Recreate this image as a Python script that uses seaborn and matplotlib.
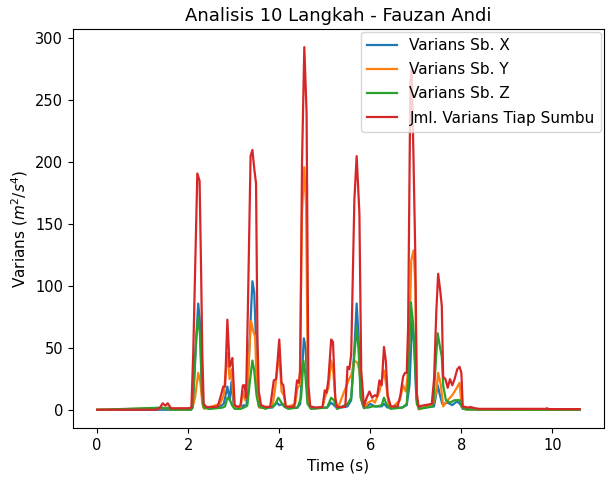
import matplotlib
matplotlib.use("Agg")
import matplotlib.pyplot as plt
import seaborn as sns
import pandas as pd

# ---- data ----
t_x = [0.0, 2.05, 2.10, 2.14, 2.18, 2.22, 2.26, 2.29, 2.33, 2.45, 2.70, 2.78, 2.86, 2.91, 2.95, 3.00,
       3.15, 3.22, 3.28, 3.33, 3.41, 3.45, 3.49, 3.53, 3.60, 3.85, 3.95, 4.00, 4.08, 4.15, 4.40, 4.46,
       4.50, 4.54, 4.58, 4.63, 4.70, 5.05, 5.14, 5.20, 5.27, 5.50, 5.58, 5.65, 5.70, 5.74, 5.79, 5.86,
       6.00, 6.10, 6.25, 6.30, 6.38, 6.70, 6.80, 6.86, 6.92, 6.96, 7.01, 7.06, 7.40, 7.48, 7.53, 7.58,
       7.70, 7.80, 7.90, 7.97, 8.03, 8.50, 10.6]
v_x = [0.2, 0.3, 2, 30, 60, 86, 70, 30, 3, 1, 3, 5, 19, 8, 23, 3,
       1.5, 4, 3, 40, 104, 95, 55, 10, 2, 2, 6, 4, 5, 2, 2, 5,
       30, 58, 50, 8, 1.5, 2, 6, 4, 1.5, 3, 8, 50, 86, 60, 10, 1.5,
       5, 3, 3, 5, 2, 2, 4, 20, 72, 55, 10, 1.5, 3, 20, 12, 5,
       6, 4, 7, 5, 1, 0.3, 0.3]

t_y = [0.0, 1.40, 1.55, 1.65, 2.05, 2.10, 2.15, 2.22, 2.27, 2.31, 2.35, 2.70, 2.78, 2.86, 2.91, 2.95,
       3.01, 3.15, 3.20, 3.25, 3.30, 3.38, 3.42, 3.47, 3.51, 3.56, 3.85, 3.90, 4.00, 4.05, 4.10, 4.15,
       4.35, 4.40, 4.45, 4.50, 4.55, 4.59, 4.63, 4.68, 4.95, 5.00, 5.08, 5.14, 5.19, 5.24, 5.28, 5.48,
       5.53, 5.58, 5.65, 5.72, 5.77, 5.82, 5.88, 5.95, 6.05, 6.10, 6.20, 6.30, 6.35, 6.40, 6.45, 6.65,
       6.72, 6.78, 6.84, 6.90, 6.95, 6.99, 7.02, 7.06, 7.38, 7.45, 7.49, 7.55, 7.60, 7.70, 7.80, 7.90,
       7.96, 8.01, 8.10, 10.6]
v_y = [0.2, 1.5, 1.5, 0.5, 0.5, 3, 10, 30, 22, 5, 1, 5, 12, 46, 25, 33,
       3, 2, 15, 8, 20, 72, 65, 59, 15, 2, 3, 15, 46, 15, 12, 2,
       5, 18, 20, 160, 196, 164, 10, 1.5, 2, 10, 18, 40, 30, 4, 1, 20,
       25, 28, 40, 38, 30, 5, 2, 6, 8, 6, 15, 32, 20, 5, 1, 8,
       20, 15, 35, 121, 129, 100, 8, 0.5, 5, 15, 30, 20, 3, 8, 12, 18,
       22, 2, 0.5, 0.2]

t_z = [0.0, 1.44, 1.50, 1.55, 1.62, 2.07, 2.10, 2.14, 2.18, 2.22, 2.26, 2.30, 2.34, 2.50, 2.75, 2.81,
       2.86, 2.91, 2.96, 3.02, 3.15, 3.22, 3.30, 3.36, 3.41, 3.45, 3.50, 3.55, 3.70, 3.90, 3.98, 4.05,
       4.10, 4.20, 4.40, 4.48, 4.53, 4.57, 4.62, 4.70, 5.05, 5.14, 5.20, 5.27, 5.50, 5.58, 5.64, 5.70,
       5.74, 5.79, 5.86, 5.95, 6.05, 6.15, 6.25, 6.30, 6.35, 6.45, 6.70, 6.80, 6.84, 6.89, 6.94, 6.98,
       7.02, 7.08, 7.38, 7.44, 7.48, 7.53, 7.57, 7.60, 7.66, 7.75, 7.85, 7.96, 8.02, 8.10, 10.6]
v_z = [0.2, 2, 1, 2, 0.3, 0.3, 3, 35, 60, 75, 60, 15, 2, 1, 2, 3,
       10, 9, 4, 1, 1, 2, 4, 25, 40, 32, 12, 3, 1, 4, 10, 6,
       3, 1, 2, 10, 40, 30, 5, 1, 2, 10, 8, 1, 5, 10, 40, 67,
       50, 10, 2, 2, 3, 3, 4, 10, 5, 1, 2, 5, 30, 87, 70, 40,
       5, 1, 3, 40, 62, 51, 43, 20, 8, 6, 8, 8, 2, 0.5, 0.2]

t_sum = [0.0, 1.30, 1.38, 1.44, 1.50, 1.55, 1.62, 1.70, 2.00, 2.07, 2.11, 2.15, 2.20, 2.25, 2.28, 2.31,
         2.34, 2.40, 2.55, 2.65, 2.72, 2.77, 2.81, 2.86, 2.91, 2.94, 2.97, 3.02, 3.10, 3.15, 3.20, 3.24,
         3.27, 3.31, 3.37, 3.41, 3.45, 3.49, 3.52, 3.55, 3.60, 3.70, 3.80, 3.88, 3.93, 4.00, 4.05, 4.09,
         4.14, 4.25, 4.33, 4.39, 4.43, 4.46, 4.50, 4.55, 4.60, 4.64, 4.68, 4.80, 4.95, 5.00, 5.04, 5.08,
         5.14, 5.18, 5.23, 5.27, 5.45, 5.50, 5.54, 5.58, 5.65, 5.70, 5.76, 5.80, 5.86, 5.92, 5.98, 6.04,
         6.10, 6.15, 6.20, 6.25, 6.30, 6.34, 6.38, 6.45, 6.60, 6.66, 6.72, 6.76, 6.80, 6.83, 6.88, 6.91,
         6.95, 6.99, 7.02, 7.06, 7.20, 7.35, 7.40, 7.45, 7.49, 7.54, 7.57, 7.60, 7.65, 7.70, 7.75, 7.80,
         7.85, 7.91, 7.96, 8.00, 8.03, 8.15, 8.20, 8.30, 8.40, 9.85, 9.88, 9.92, 10.6]
v_sum = [0.3, 0.3, 2, 5.5, 3.5, 5.5, 1.5, 1.5, 1.5, 2, 45, 110, 191, 185, 120, 45,
         5, 2.5, 2.5, 3, 12, 19, 19, 73, 35, 38, 42, 4, 2.5, 4, 20, 20,
         10, 80, 205, 210, 195, 183, 60, 15, 4, 2.5, 2.5, 24, 25, 57, 22, 20,
         3, 2.5, 3, 24, 22, 32, 200, 293, 240, 20, 3, 2, 2.5, 16, 14, 25,
         57, 55, 10, 2.5, 2.5, 35, 33, 45, 170, 205, 159, 32, 3, 10, 15, 10,
         12, 11, 24, 20, 51, 40, 12, 3, 3, 12, 27, 30, 30, 67, 265, 275,
         200, 121, 14, 3, 4, 5, 25, 80, 110, 95, 84, 27, 25, 18, 25, 20,
         25, 33, 35, 30, 3, 2, 2.5, 1.5, 1, 1, 1.5, 0.8, 0.8]

labels = ["Varians Sb. X", "Varians Sb. Y", "Varians Sb. Z", "Jml. Varians Tiap Sumbu"]
colors = ["#1f77b4", "#ff7f0e", "#2ca02c", "#d62728"]

title = "Analisis 10 Langkah - Fauzan Andi"
xlabel = "Time (s)"
ylabel = "Varians ($m^2/s^4$)"

# ---- plot ----
fig = plt.figure(figsize=(6.06, 4.79), dpi=100)
ax = fig.add_axes([0.1205, 0.1065, 0.876, 0.833])

series = [(t_x, v_x), (t_y, v_y), (t_z, v_z), (t_sum, v_sum)]
for (tt, vv), lab, col in zip(series, labels, colors):
    df = pd.DataFrame({"t": tt, "v": vv})
    sns.lineplot(data=df, x="t", y="v", ax=ax, color=col, label=lab, linewidth=1.6,
                 estimator=None, sort=False)

ax.set_title(title, fontsize=13)
ax.set_xlabel(xlabel, fontsize=11)
ax.set_ylabel(ylabel, fontsize=11)
ax.tick_params(labelsize=10.5)
ax.legend(loc="upper right", fontsize=11, borderaxespad=0.2, labelspacing=0.6)

fig.savefig("out.png", dpi=100)
